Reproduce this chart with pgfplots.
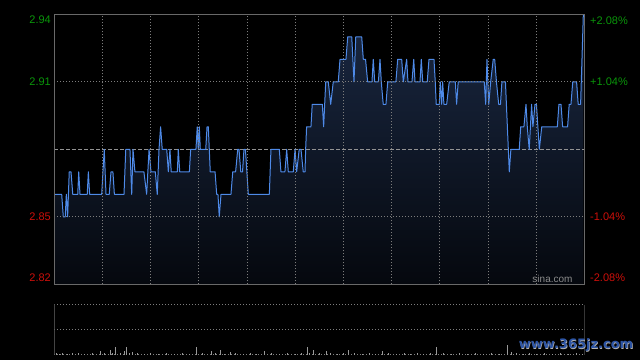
\documentclass[border=0pt]{standalone}
\usepackage{pgfplots}
\pgfplotsset{compat=1.18}
\usepackage{pgfplotstable}
\usepackage{fontspec}
\setmainfont{Liberation Sans}
\newfontfamily\wmfont{DejaVu Sans}
\definecolor{upgreen}{RGB}{10,150,10}
\definecolor{downred}{RGB}{205,15,10}
\definecolor{framec}{RGB}{105,105,105}
\definecolor{gridc}{RGB}{125,125,125}
\definecolor{lineblue}{RGB}{78,138,232}
\definecolor{filltop}{RGB}{26,40,66}
\definecolor{fillbot}{RGB}{5,8,14}
\definecolor{wmblue}{RGB}{45,85,165}

\pgfplotstableread{
t p
0 2.86
4.6 2.86
5.6 2.85
6.8 2.85
7.5 2.86
8.3 2.85
9.3 2.87
10.4 2.87
11.5 2.86
14.6 2.86
15.2 2.87
16.0 2.86
20.5 2.86
21.2 2.87
22.0 2.86
29.5 2.86
31.1 2.88
32.2 2.86
34.2 2.86
35.3 2.87
36.5 2.87
37.4 2.86
43.4 2.86
44.5 2.88
47.1 2.88
48.2 2.86
49.0 2.88
50.2 2.87
55.8 2.87
57.5 2.86
59.0 2.88
60.2 2.87
62.9 2.87
64.1 2.86
65.2 2.88
66.2 2.89
67.2 2.88
70.0 2.88
71.0 2.87
72.0 2.88
72.8 2.87
76.6 2.87
77.2 2.88
78.1 2.87
84.1 2.87
84.9 2.88
88.2 2.88
89.0 2.89
89.7 2.88
90.3 2.89
90.9 2.88
94.3 2.88
95.1 2.89
95.9 2.89
96.5 2.88
97.1 2.87
100.1 2.87
101.1 2.86
101.9 2.86
102.7 2.85
103.8 2.86
110.0 2.86
111.1 2.87
112.9 2.87
114.2 2.88
115.0 2.88
116.1 2.87
117.2 2.87
118.1 2.88
119.0 2.88
120.8 2.86
133.9 2.86
134.9 2.88
140.1 2.88
141.1 2.87
143.6 2.87
144.7 2.88
145.7 2.87
148.8 2.87
149.9 2.88
150.9 2.87
152.5 2.88
153.6 2.88
155.0 2.87
156.1 2.87
156.5 2.88
157.1 2.89
159.8 2.89
160.6 2.90
166.9 2.90
167.7 2.89
169.0 2.91
170.6 2.91
172.1 2.90
173.7 2.91
176.8 2.91
177.9 2.92
181.6 2.92
182.7 2.93
185.2 2.93
186.6 2.91
187.7 2.93
191.4 2.93
192.4 2.92
193.8 2.92
195.1 2.91
197.8 2.91
198.6 2.92
199.5 2.91
201.8 2.91
202.8 2.92
203.6 2.91
204.8 2.90
206.5 2.90
207.6 2.91
212.7 2.91
213.8 2.92
216.3 2.92
217.3 2.91
219.4 2.92
220.2 2.91
222.7 2.91
223.8 2.92
224.6 2.91
227.7 2.91
228.5 2.92
229.4 2.91
232.2 2.91
233.3 2.92
236.4 2.92
237.2 2.91
237.8 2.90
239.7 2.90
240.3 2.91
241.2 2.90
241.8 2.91
242.6 2.90
244.3 2.90
245.9 2.91
249.7 2.91
250.5 2.90
251.5 2.91
267.7 2.91
268.6 2.90
269.4 2.92
270.5 2.90
271.7 2.91
273.3 2.92
274.2 2.92
275.3 2.91
276.7 2.90
277.8 2.90
278.7 2.91
280.9 2.91
282.7 2.88
283.3 2.87
284.3 2.88
289.5 2.88
290.4 2.89
292.4 2.89
293.7 2.90
294.5 2.89
295.7 2.88
297.2 2.90
298.0 2.89
299.3 2.90
300.2 2.90
302.0 2.88
303.5 2.89
313.2 2.89
314.2 2.90
315.5 2.90
316.5 2.89
319.6 2.89
320.6 2.90
321.7 2.90
322.8 2.91
325.2 2.91
326.2 2.90
327.7 2.90
329.4 2.94
}\price

\pgfplotstableread{
t v
1 1.5
3 1
5 1.5
8 1
11 1.5
15 2
19 1
24 1.5
28.5 4
31 1.5
34.7 4.7
36 2
38 7.4
41 1.5
43.4 3.7
44.8 7.7
46.5 2
48.6 2.7
52 1.5
56 1
60 1.5
65 1
70 1.5
75 1
80 1.5
84 1
88.4 7.7
92 1.5
97.7 3.7
100 1.5
103.4 4.7
106 1
109.4 2.7
113 1.5
118 1
122 1.5
126 1
130.7 3.7
135 1.5
140 1
145 1.5
150 1
154 1.5
157.3 7.7
159 1.5
161.3 4.7
165 1.5
169.6 4
172 1.5
176 1
180 1.5
183 4.7
187 1.5
192 1
196 1.5
200 1
204.2 3.7
208 1.5
213 1
218 1.5
222 1
226 1.5
230 1
234 1.5
237.8 7.7
242 1.5
247 1
252 1.5
257 1
262 1.5
267 1
272 1.5
277 1
282 9.7
284.8 3
288 1.5
292 1
296 1.5
300 1
305 1.5
310 1
315 1.5
320 1
325 1.5
329 1
}\vol

\begin{document}
\begin{tikzpicture}[x=1pt,y=1pt]
\useasboundingbox (0,0) rectangle (640,360);
\fill[black] (0,0) rectangle (640,360);

% price panel
\begin{axis}[
  at={(54.3pt,75.7pt)}, anchor=south west,
  width=530pt, height=270pt, scale only axis,
  xmin=0, xmax=330, ymin=2.82, ymax=2.94,
  axis on top,
  axis line style={draw=framec, line width=0.9pt},
  xtick={30,60,...,300}, ytick={2.85,2.91},
  xticklabels={}, yticklabels={},
  major tick length=0pt,
  grid=major,
  grid style={draw=gridc, dash pattern=on 1pt off 2pt, line width=0.8pt},
]
\addplot[draw=none, top color=filltop, bottom color=fillbot] table {\price}
  -- (axis cs:329.4,2.82) -- (axis cs:0,2.82) -- cycle;
\draw[gray!85, line width=0.8pt, dash pattern=on 4pt off 2pt] (axis cs:0,2.88) -- (axis cs:330,2.88);
\addplot[lineblue, line width=1pt, line join=round] table {\price};
\end{axis}

% volume panel
\begin{axis}[
  at={(54.3pt,5.3pt)}, anchor=south west,
  width=530pt, height=50pt, scale only axis,
  xmin=0, xmax=330, ymin=0, ymax=50,
  axis lines=none,
]
\draw[gridc, dash pattern=on 1pt off 2pt, line width=0.8pt] (axis cs:0,50) -- (axis cs:330,50);
\draw[gridc, dash pattern=on 1pt off 2pt, line width=0.8pt] (axis cs:0,25) -- (axis cs:330,25);
\draw[gridc, dash pattern=on 1pt off 2pt, line width=0.8pt] (axis cs:0,0.3) -- (axis cs:330,0.3);
\addplot[ycomb, gray!80, line width=0.8pt] table {\vol};
\draw[framec, line width=0.9pt] (axis cs:0,0) -- (axis cs:0,50);
\draw[gray!80, line width=0.9pt] (axis cs:330,0) -- (axis cs:330,50);
\end{axis}

% left labels
\begin{scope}[font=\fontsize{11}{13}\selectfont]
\node[anchor=east, text=upgreen, inner sep=0pt] at (51,340) {2.94};
\node[anchor=east, text=upgreen, inner sep=0pt] at (51,278) {2.91};
\node[anchor=east, text=downred, inner sep=0pt] at (51,143) {2.85};
\node[anchor=east, text=downred, inner sep=0pt] at (51,82.3) {2.82};
\node[anchor=west, text=upgreen, inner sep=0pt] at (590,339.3) {+2.08\%};
\node[anchor=west, text=upgreen, inner sep=0pt] at (590,278) {+1.04\%};
\node[anchor=west, text=downred, inner sep=0pt] at (590,143) {-1.04\%};
\node[anchor=west, text=downred, inner sep=0pt] at (590,82.3) {-2.08\%};
\end{scope}
\node[text=gray!90, inner sep=0pt, font=\fontsize{10}{12}\selectfont] at (552.5,81) {sina.com};

% watermark
\node[text=gray!60, inner sep=0pt, font=\wmfont\bfseries\fontsize{13}{15}\selectfont] at (576.6,14.4) {www.365jz.com};
\node[text=wmblue, inner sep=0pt, font=\wmfont\bfseries\fontsize{13}{15}\selectfont] at (576,15) {www.365jz.com};
\end{tikzpicture}
\end{document}
